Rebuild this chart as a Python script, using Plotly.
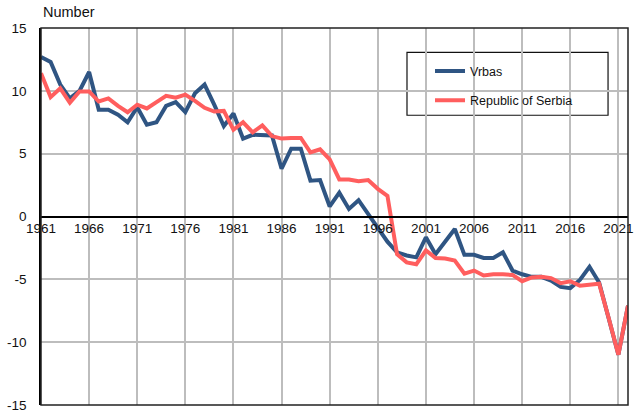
import plotly.graph_objects as go

years = list(range(1961, 2023))

vrbas = [12.7, 12.3, 10.5, 9.4, 10.0, 11.5, 8.5, 8.5, 8.1, 7.5,
         8.7, 7.3, 7.5, 8.8, 9.1, 8.3, 9.8, 10.5, 8.9, 7.2,
         8.2, 6.2, 6.5, 6.5, 6.45, 3.8, 5.4, 5.4, 2.85, 2.9,
         0.8, 1.9, 0.6, 1.3, 0.2, -1.0, -2.0, -2.85, -3.1, -3.25,
         -1.65, -3.0, -2.05, -1.0, -3.05, -3.05, -3.3, -3.3, -2.85, -4.3,
         -4.6, -4.8, -4.8, -5.1, -5.6, -5.7, -5.05, -4.0, -5.25, -8.1,
         -11.0, -7.1]

serbia = [11.4, 9.5, 10.2, 9.05, 9.95, 9.95, 9.15, 9.4, 8.8, 8.3,
          8.9, 8.6, 9.1, 9.6, 9.45, 9.7, 9.2, 8.65, 8.35, 8.4,
          6.9, 7.5, 6.7, 7.25, 6.4, 6.2, 6.25, 6.25, 5.1, 5.35,
          4.55, 2.95, 2.95, 2.8, 2.9, 2.2, 1.65, -3.0, -3.65, -3.8,
          -2.7, -3.3, -3.35, -3.5, -4.55, -4.3, -4.7, -4.6, -4.6, -4.65,
          -5.15, -4.85, -4.8, -4.9, -5.3, -5.15, -5.5, -5.45, -5.35, -8.1,
          -11.0, -7.1]

x_ticks = list(range(1961, 2022, 5))
y_ticks = [-15, -10, -5, 0, 5, 10, 15]

BLUE = "#2F5583"
RED = "#FF5E5E"
GRID = "#BDBDBD"
FONT = "Liberation Sans, Arial, sans-serif"

fig = go.Figure()
fig.add_trace(go.Scatter(x=years, y=vrbas, mode="lines", name="Vrbas",
                         legendgroup="a",
                         line=dict(color=BLUE, width=4)))
fig.add_trace(go.Scatter(x=years, y=serbia, mode="lines", name="Republic of Serbia",
                         legendgroup="b",
                         line=dict(color=RED, width=4)))

fig.update_layout(
    width=642, height=410,
    margin=dict(l=41, r=14, t=28, b=5, autoexpand=False),
    paper_bgcolor="white", plot_bgcolor="white",
    font=dict(family=FONT, size=13.5, color="#111"),
    showlegend=True,
    legend=dict(x=0.6627, y=0.925, xanchor="left", yanchor="top",
                bgcolor="rgba(0,0,0,0)", borderwidth=0,
                font=dict(size=12.5, color="#111"),
                tracegroupgap=10, itemwidth=30),
    xaxis=dict(range=[1961, 2022], tickvals=x_ticks, ticktext=[str(v) for v in x_ticks],
               anchor="free", position=0.5, automargin=False,
               showline=True, linecolor="black", linewidth=1.5,
               showgrid=True, gridcolor=GRID, gridwidth=1.5,
               zeroline=False, ticks="", tickfont=dict(size=13.5),
               ticklabeloverflow="allow"),
    yaxis=dict(range=[-15, 15], tickvals=y_ticks, ticktext=[str(v) for v in y_ticks],
               automargin=False,
               showline=True, linecolor="black", linewidth=1.5,
               showgrid=True, gridcolor=GRID, gridwidth=1.5,
               zeroline=False, ticks="", ticklabelstandoff=10,
               tickfont=dict(size=13.5), ticklabeloverflow="allow"),
    shapes=[
        dict(type="rect", xref="paper", yref="paper", x0=0, x1=1, y0=0, y1=1,
             line=dict(color="#222", width=1.5), layer="above"),
        dict(type="rect", xref="paper", yref="paper", x0=0.6235, x1=0.966,
             y0=0.7686, y1=0.9356,
             line=dict(color="#111", width=1.2), fillcolor="white", layer="below"),
    ],
    annotations=[
        dict(text="Number", xref="paper", yref="paper", x=0, y=1.0416,
             xanchor="left", yanchor="middle", showarrow=False,
             font=dict(size=14.5, color="#111")),
    ],
)

fig.write_html("out.html", config={"displayModeBar": False},
               post_script="document.body.style.margin='0';document.body.style.overflow='hidden';")
